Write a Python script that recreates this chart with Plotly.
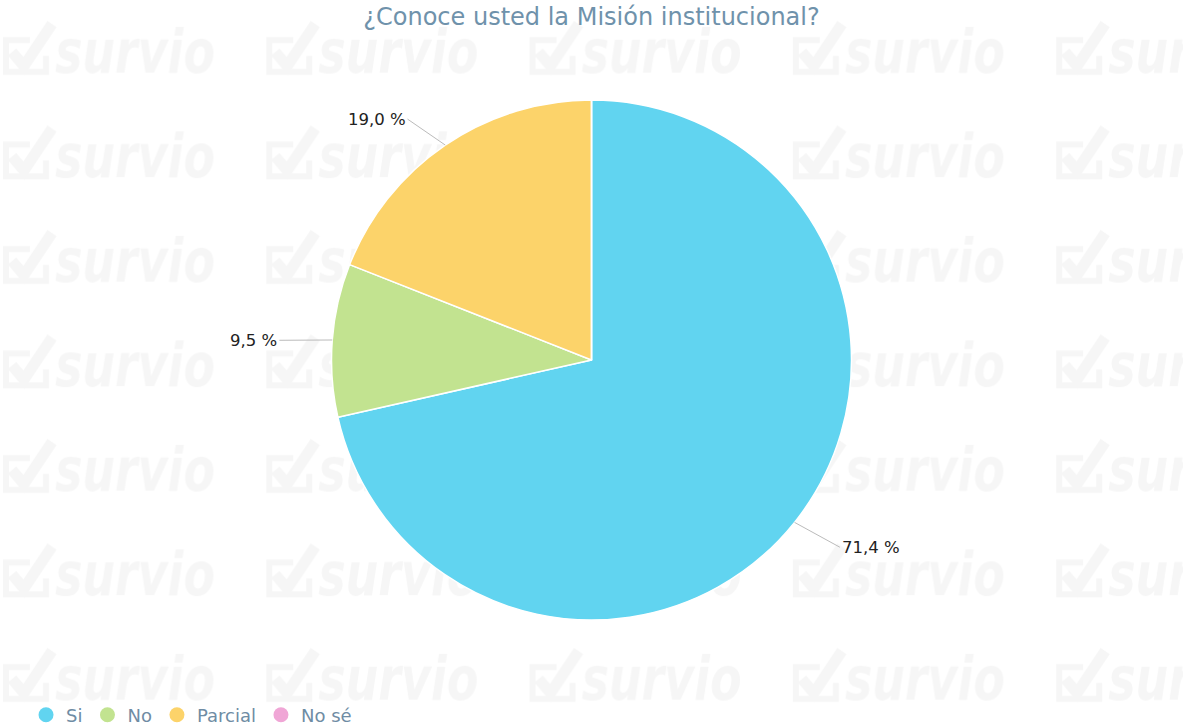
import math
import base64
import plotly.graph_objects as go

# ---- data ----
categories = ["Si", "No", "Parcial", "No sé"]
percent_values = [71.4, 9.5, 19.0, 0.0]
slice_colors = ["#61d4f0", "#c2e390", "#fcd36a", "#f0a6d6"]
title_text = "¿Conoce usted la Misión institucional?"

W, H = 1183, 725
M_L, M_R, M_T, M_B = 0, 0, 100, 105
PW, PH = W - M_L - M_R, H - M_T - M_B
R = min(PW, PH) / 2.0

fig = go.Figure()

fig.add_trace(go.Pie(
    labels=categories,
    values=percent_values,
    textinfo="none",
    marker=dict(colors=slice_colors, line=dict(color="#ffffff", width=1.5)),
    sort=False,
    direction="clockwise",
    rotation=0,
    showlegend=False,
    hoverinfo="label+percent",
    domain=dict(x=[0, 1], y=[0, 1]),
))

# outside labels with leader lines, positioned from each slice's mid-angle
total = sum(percent_values)
cum = 0.0
annotations = []
for cat, v in zip(categories, percent_values):
    start = cum
    cum += v
    if v <= 0:
        continue
    theta = math.radians((start + v / 2.0) / total * 360.0)
    s, c = math.sin(theta), math.cos(theta)
    side = 1 if s >= 0 else -1
    ex = 0.5 + R * s / PW
    ey = 0.5 + R * c / PH
    annotations.append(dict(
        x=ex, y=ey, xref="paper", yref="paper",
        text=f"{v:.1f} %".replace(".", ","),
        showarrow=True, arrowhead=0, arrowwidth=1, arrowcolor="#bbbbbb",
        ax=35 * s + side * 18, ay=-35 * c + 3,
        xanchor="left" if side > 0 else "right", yanchor="middle",
        font=dict(family="DejaVu Sans", size=16.5, color="#222222"),
    ))

# legend entries with round markers
for name, col in zip(categories, slice_colors):
    fig.add_trace(go.Scatter(
        x=[None], y=[None], mode="markers", name=name,
        marker=dict(symbol="circle", size=15, color=col),
        showlegend=True, hoverinfo="skip",
    ))

# faint watermark pattern (decorative background)
svg = (
    f'<svg xmlns="http://www.w3.org/2000/svg" width="{W}" height="{H}" '
    f'viewBox="0 0 {W} {H}" preserveAspectRatio="none">'
    '<defs><pattern id="p" x="0" y="0" width="263.3" height="104.5" patternUnits="userSpaceOnUse">'
    '<path d="M30 40 H6 V72 H46 V56" fill="none" stroke="#f6f6f6" stroke-width="6"/>'
    '<path d="M12 52 L24 66 L52 24" fill="none" stroke="#f6f6f6" stroke-width="11"/>'
    '<text x="55" y="73" font-family="DejaVu Sans" font-weight="bold" font-style="italic" '
    'font-size="60" textLength="160" lengthAdjust="spacingAndGlyphs" fill="#f6f6f6">survio</text>'
    '</pattern></defs>'
    f'<rect width="{W}" height="{H}" fill="url(#p)"/></svg>'
)
uri = "data:image/svg+xml;base64," + base64.b64encode(svg.encode("utf-8")).decode()

fig.update_layout(
    width=W,
    height=H,
    paper_bgcolor="#ffffff",
    plot_bgcolor="rgba(0,0,0,0)",
    margin=dict(l=M_L, r=M_R, t=M_T, b=M_B, autoexpand=False),
    title=dict(
        text=title_text,
        x=0.5, xanchor="center",
        y=1 - 17 / H, yanchor="middle",
        font=dict(family="DejaVu Sans", size=24, color="#6f92ab"),
    ),
    xaxis=dict(visible=False),
    yaxis=dict(visible=False),
    showlegend=True,
    legend=dict(
        orientation="h",
        x=0.022, xanchor="left",
        y=-95 / PH, yanchor="middle",
        font=dict(family="DejaVu Sans", size=18, color="#6f8ca4"),
        bgcolor="rgba(0,0,0,0)",
        itemwidth=30,
    ),
    annotations=annotations,
    images=[dict(
        source=uri, xref="paper", yref="paper",
        x=-M_L / PW, y=1 + M_T / PH, sizex=W / PW, sizey=H / PH,
        xanchor="left", yanchor="top", sizing="stretch", layer="below",
    )],
)

fig.write_html(
    "out.html",
    config={"displayModeBar": False},
    post_script="document.body.style.margin='0';document.body.style.overflow='hidden';",
)
